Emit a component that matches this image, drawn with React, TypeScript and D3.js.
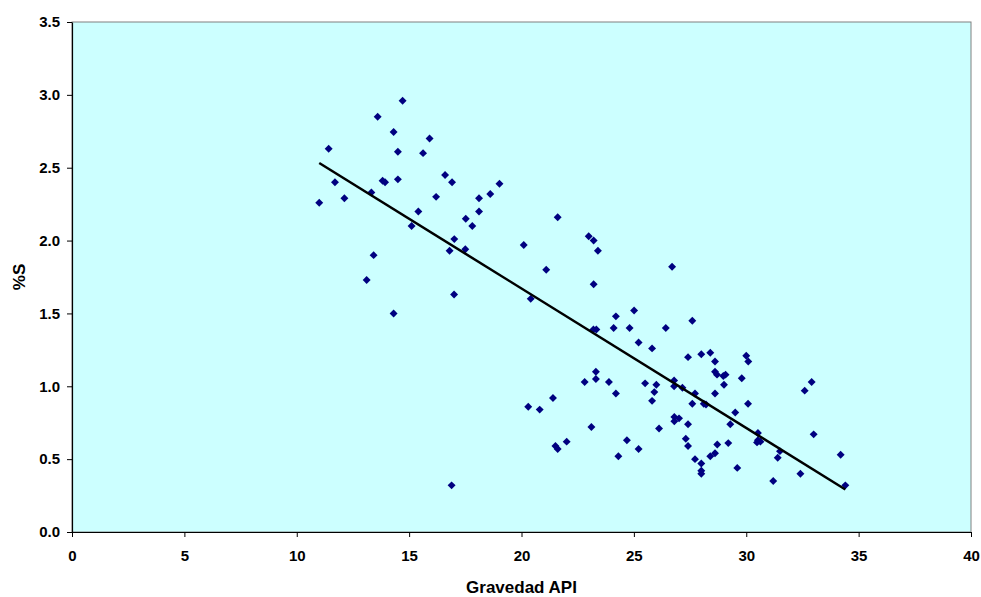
import React, { useEffect, useRef } from 'react';
import * as d3 from 'd3';

// Gravedad API (x) vs %S (y)
const apiValues = [
  11.0, 11.42, 11.7, 12.12, 13.11, 13.32, 13.42, 13.6, 13.82, 13.93,
  14.31, 14.31, 14.5, 14.5, 14.71, 15.11, 15.41, 15.62, 15.91, 16.2,
  16.6, 16.8, 16.91, 17.01, 17.0, 16.89, 17.52, 17.5, 17.81, 18.11,
  18.11, 18.61, 19.02, 20.1, 20.41, 21.1, 21.61, 22.99, 23.21, 23.4,
  23.21, 26.7, 25.01, 24.2, 27.6, 23.2, 23.33, 24.1, 24.81, 26.42,
  25.21, 25.81, 27.41, 28.0, 28.4, 28.61, 30.0, 30.09, 28.61, 28.7,
  29.08, 28.98, 29.8, 23.31, 23.31, 22.81, 23.89, 25.5, 26.0, 26.79,
  26.79, 27.16, 27.72, 28.61, 25.91, 24.2, 25.81, 27.6, 28.11, 28.21,
  30.08, 29.51, 21.4, 20.3, 20.81, 26.8, 27.01, 26.8, 27.41, 29.29,
  23.11, 26.12, 27.31, 27.41, 28.71, 29.2, 22.01, 21.51, 21.61, 24.69,
  25.21, 24.31, 27.72, 28.4, 28.61, 28.0, 28.0, 28.0, 29.6, 29.01,
  32.91, 32.6, 30.52, 30.52, 30.63, 30.48, 33.0, 31.5, 31.4, 34.2,
  32.41, 31.2, 34.41,
];
const sulfurValues = [
  2.26, 2.63, 2.40, 2.29, 1.73, 2.33, 1.90, 2.85, 2.41, 2.40,
  2.745, 1.50, 2.61, 2.42, 2.96, 2.10, 2.20, 2.60, 2.70, 2.30,
  2.45, 1.93, 2.40, 2.01, 1.63, 0.32, 2.15, 1.94, 2.10, 2.20,
  2.29, 2.32, 2.39, 1.97, 1.60, 1.80, 2.16, 2.03, 2.00, 1.93,
  1.70, 1.82, 1.52, 1.48, 1.45, 1.39, 1.39, 1.40, 1.40, 1.40,
  1.30, 1.26, 1.20, 1.22, 1.23, 1.17, 1.21, 1.17, 1.10, 1.08,
  1.08, 1.07, 1.055, 1.10, 1.05, 1.03, 1.03, 1.02, 1.01, 1.04,
  1.00, 0.99, 0.95, 0.95, 0.96, 0.95, 0.90, 0.88, 0.88, 0.875,
  0.88, 0.82, 0.92, 0.86, 0.84, 0.79, 0.78, 0.76, 0.74, 0.74,
  0.72, 0.71, 0.64, 0.59, 0.60, 0.61, 0.62, 0.59, 0.57, 0.63,
  0.57, 0.52, 0.50, 0.52, 0.54, 0.47, 0.42, 0.40, 0.44, 1.01,
  1.03, 0.97, 0.68, 0.63, 0.62, 0.615, 0.67, 0.555, 0.51, 0.53,
  0.40, 0.35, 0.32,
];

const xTicks = [0, 5, 10, 15, 20, 25, 30, 35, 40];
const yTicks = [0, 0.5, 1.0, 1.5, 2.0, 2.5, 3.0, 3.5];

const App = () => {
  const svgRef = useRef(null);

  useEffect(() => {
    const width = 981;
    const height = 597;
    const margin = { top: 22, right: 10, bottom: 65, left: 72 };
    const font = '"Liberation Sans", Arial, sans-serif';

    const x = d3.scaleLinear().domain([0, 40]).range([margin.left, width - margin.right]);
    const y = d3.scaleLinear().domain([0, 3.5]).range([height - margin.bottom, margin.top]);

    const svg = d3.select(svgRef.current);
    svg.selectAll('*').remove();

    // plot area
    svg.append('rect')
      .attr('x', x(0)).attr('y', y(3.5))
      .attr('width', x(40) - x(0)).attr('height', y(0) - y(3.5))
      .attr('fill', '#ccffff')
      .attr('stroke', '#808080')
      .attr('stroke-width', 1);

    const data = apiValues.map((v, i) => ({ api: v, s: sulfurValues[i] }));

    // linear trend line (least squares)
    const mx = d3.mean(data, d => d.api);
    const my = d3.mean(data, d => d.s);
    const sxy = d3.sum(data, d => (d.api - mx) * (d.s - my));
    const sxx = d3.sum(data, d => (d.api - mx) ** 2);
    const slope = sxy / sxx;
    const intercept = my - slope * mx;
    const [xmin, xmax] = d3.extent(data, d => d.api);

    const diamond = d3.symbol().type(d3.symbolDiamond2).size(40);
    svg.append('g')
      .selectAll('path')
      .data(data)
      .enter().append('path')
      .attr('d', diamond)
      .attr('transform', d => `translate(${x(d.api)},${y(d.s)})`)
      .attr('fill', '#000080');

    svg.append('line')
      .attr('x1', x(xmin)).attr('y1', y(intercept + slope * xmin))
      .attr('x2', x(xmax)).attr('y2', y(intercept + slope * xmax))
      .attr('stroke', '#000')
      .attr('stroke-width', 2.5);

    // axes
    const xAxis = svg.append('g')
      .attr('transform', `translate(0,${y(0)})`)
      .call(d3.axisBottom(x).tickValues(xTicks).tickSize(5).tickSizeOuter(0).tickPadding(13).tickFormat(d3.format('d')));
    const yAxis = svg.append('g')
      .attr('transform', `translate(${x(0)},0)`)
      .call(d3.axisLeft(y).tickValues(yTicks).tickSize(5).tickSizeOuter(0).tickPadding(7).tickFormat(d3.format('.1f')));

    [xAxis, yAxis].forEach(a => {
      a.select('.domain').attr('stroke', '#000').attr('stroke-width', 1.2);
      a.selectAll('.tick line').attr('stroke', '#000');
      a.selectAll('text')
        .attr('font-family', font)
        .attr('font-weight', 'bold')
        .attr('font-size', 15)
        .attr('fill', '#000');
    });

    svg.append('text')
      .attr('x', (x(0) + x(40)) / 2)
      .attr('y', 593)
      .attr('text-anchor', 'middle')
      .attr('font-family', font)
      .attr('font-weight', 'bold')
      .attr('font-size', 17)
      .text('Gravedad API');

    svg.append('text')
      .attr('transform', `translate(25,${(y(0) + y(3.5)) / 2}) rotate(-90)`)
      .attr('text-anchor', 'middle')
      .attr('font-family', font)
      .attr('font-weight', 'bold')
      .attr('font-size', 17)
      .text('%S');
  }, []);

  return (
    <svg
      ref={svgRef}
      width={981}
      height={597}
      style={{ position: 'absolute', left: 0, top: 0, background: '#fff' }}
    />
  );
};

export default App;
